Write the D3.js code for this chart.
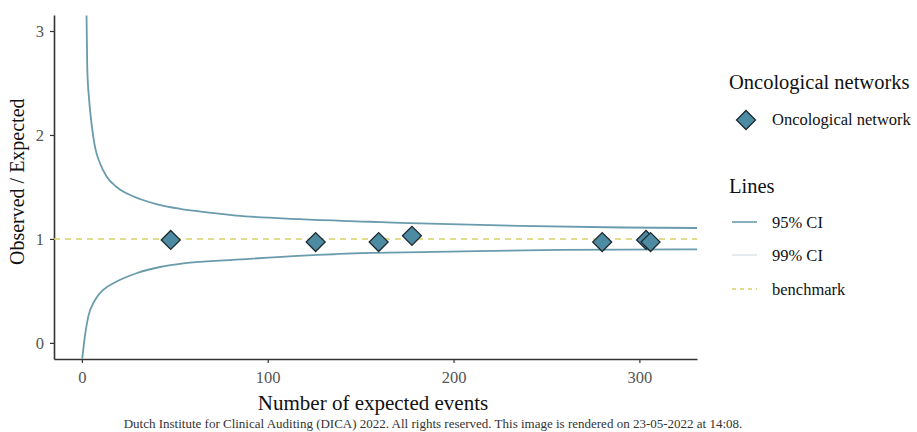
<!DOCTYPE html>
<html>
<head>
<meta charset="utf-8">
<script src="https://cdn.jsdelivr.net/npm/d3@7"></script>
<style>
  body { margin: 0; background: #fff; }
  text { font-family: "Liberation Serif", "DejaVu Serif", serif; }
</style>
</head>
<body>
<div id="chart"></div>
<script>
// networks: expected events vs observed/expected ratio
let expected = [47.8, 125.8, 159.7, 177.6, 280, 303.6, 306];
let ratio = [0.99, 0.97, 0.97, 1.03, 0.97, 0.99, 0.97];

// 95% CI funnel
let ciUpperE = [2.5, 2.9, 3.9, 5.2, 7.0, 9.7, 13.3, 18.7, 27.6, 40, 52.7, 63, 83, 117, 155, 171, 235, 291, 331];
let ciUpperV = [3.15, 2.64, 2.34, 2.11, 1.89, 1.73, 1.60, 1.50, 1.41, 1.335, 1.29, 1.265, 1.225, 1.19, 1.165, 1.155, 1.125, 1.11, 1.105];
let ciLowerE = [0.2, 1.6, 3.4, 7, 11.5, 18.7, 29.4, 42, 52.7, 83, 119, 155, 205, 257, 331];
let ciLowerV = [-0.15, 0.06, 0.25, 0.41, 0.51, 0.59, 0.67, 0.73, 0.76, 0.80, 0.84, 0.865, 0.88, 0.895, 0.9];

let benchmark = 1;
let xTicks = [0, 100, 200, 300];
let yTicks = [0, 1, 2, 3];

let svgWidth = 917;
let svgHeight = 432;
let margin = { top: 15, right: 220, bottom: 73, left: 54 };
let width = 697 - margin.left;
let height = svgHeight - margin.top - margin.bottom;

let lineColor = "#6a9bad";
let pointFill = "#4d8ba3";

let svg = d3.select("#chart")
  .append("svg")
  .attr("width", svgWidth)
  .attr("height", svgHeight);

let chartGroup = svg.append("g")
  .attr("transform", `translate(${margin.left}, ${margin.top})`);

let x = d3.scaleLinear().domain([-15, 331]).range([0, width]);
let y = d3.scaleLinear().domain([-0.155, 3.154]).range([height, 0]);

chartGroup.append("clipPath").attr("id", "clip")
  .append("rect").attr("width", width).attr("height", height);

// axes
let bottomAxis = d3.axisBottom(x).tickValues(xTicks).tickFormat(d3.format("d"))
  .tickSize(4).tickSizeOuter(0).tickPadding(8);
let leftAxis = d3.axisLeft(y).tickValues(yTicks).tickFormat(d3.format("d"))
  .tickSize(4).tickSizeOuter(0).tickPadding(6);

let xg = chartGroup.append("g")
  .attr("transform", `translate(0, ${height})`)
  .call(bottomAxis);
let yg = chartGroup.append("g").call(leftAxis);

[xg, yg].forEach(g => {
  g.select(".domain").attr("stroke", "#333").attr("stroke-width", 1.6);
  g.selectAll(".tick line").attr("stroke", "#333").attr("stroke-width", 1.2);
  g.selectAll(".tick text")
    .attr("fill", "#555")
    .attr("font-size", "16.5px")
    .attr("font-family", "Liberation Serif");
});

let plot = chartGroup.append("g").attr("clip-path", "url(#clip)");

// benchmark
plot.append("line")
  .attr("x1", 0).attr("x2", width)
  .attr("y1", y(benchmark)).attr("y2", y(benchmark))
  .attr("stroke", "#d8d16a")
  .attr("stroke-width", 1.6)
  .attr("stroke-dasharray", "6,5");

// CI funnel
let line = d3.line().x(d => x(d[0])).y(d => y(d[1])).curve(d3.curveMonotoneX);
plot.append("path")
  .datum(ciUpperE.map((e, i) => [e, ciUpperV[i]]))
  .attr("d", line)
  .attr("fill", "none").attr("stroke", lineColor).attr("stroke-width", 1.8);
plot.append("path")
  .datum(ciLowerE.map((e, i) => [e, ciLowerV[i]]))
  .attr("d", line)
  .attr("fill", "none").attr("stroke", lineColor).attr("stroke-width", 1.8);

// points
let diamond = d3.symbol().type(d3.symbolSquare).size(180);
plot.selectAll(".pt")
  .data(expected)
  .enter()
  .append("path")
  .attr("class", "pt")
  .attr("d", diamond)
  .attr("transform", (d, i) => `translate(${x(d)}, ${y(ratio[i])}) rotate(45)`)
  .attr("fill", pointFill)
  .attr("stroke", "#1f2a30")
  .attr("stroke-width", 1.3);

// axis titles
chartGroup.append("text")
  .attr("transform", "rotate(-90)")
  .attr("x", -y(1.55))
  .attr("y", -margin.left + 24)
  .style("text-anchor", "middle")
  .attr("font-size", "20px")
  .attr("fill", "#111")
  .text("Observed / Expected");

svg.append("text")
  .attr("x", 373)
  .attr("y", 410)
  .style("text-anchor", "middle")
  .attr("font-size", "21px")
  .attr("fill", "#111")
  .text("Number of expected events");

svg.append("text")
  .attr("x", 433)
  .attr("y", 428)
  .style("text-anchor", "middle")
  .attr("font-size", "13px")
  .attr("fill", "#333")
  .text("Dutch Institute for Clinical Auditing (DICA) 2022. All rights reserved. This image is rendered on 23-05-2022 at 14:08.");

// legend
let legend = svg.append("g");
legend.append("text").attr("x", 729).attr("y", 89)
  .attr("font-size", "20.5px").attr("fill", "#111").text("Oncological networks");
legend.append("path")
  .attr("d", diamond)
  .attr("transform", "translate(746, 120) rotate(45)")
  .attr("fill", pointFill).attr("stroke", "#1f2a30").attr("stroke-width", 1.3);
legend.append("text").attr("x", 772).attr("y", 125)
  .attr("font-size", "16.5px").attr("fill", "#111").text("Oncological network");

legend.append("text").attr("x", 729).attr("y", 193)
  .attr("font-size", "20.5px").attr("fill", "#111").text("Lines");

let lineKeys = ["95% CI", "99% CI", "benchmark"];
let keyColors = [lineColor, "#dde6ea", "#d8d16a"];
let keyDash = [null, null, "4,4"];
let keyY = [222, 255, 289];
lineKeys.forEach((k, i) => {
  legend.append("line")
    .attr("x1", 732).attr("x2", 757)
    .attr("y1", keyY[i]).attr("y2", keyY[i])
    .attr("stroke", keyColors[i]).attr("stroke-width", 1.6)
    .attr("stroke-dasharray", keyDash[i]);
  legend.append("text").attr("x", 772).attr("y", keyY[i] + 5.5)
    .attr("font-size", "16.5px").attr("fill", "#111").text(k);
});
</script>
</body>
</html>
